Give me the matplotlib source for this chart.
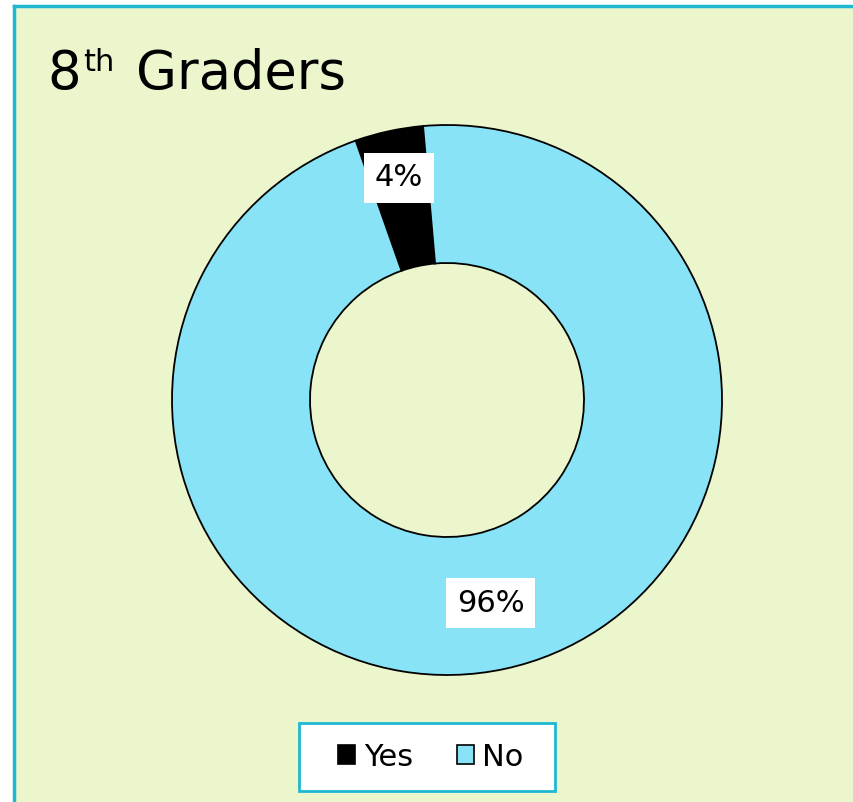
import matplotlib
matplotlib.use("Agg")
import matplotlib.pyplot as plt
import numpy as np
from matplotlib.patches import Rectangle, Patch
from matplotlib.lines import Line2D

# data
categories = ["Yes", "No"]
values = [4, 96]
colors = ["#000000", "#87E3F5"]

BG = "#EBF6CD"
BORDER = "#1FB8D2"
W, H = 854, 802


def fx(px):
    return px / W


def fy(py):
    # pixel row from top -> figure fraction
    return 1 - py / H


fig = plt.figure(figsize=(W / 100, H / 100), dpi=100)
fig.patch.set_facecolor("white")

# chart area, only top and left border visible
fig.add_artist(Rectangle((fx(14), 0), 1, fy(6), transform=fig.transFigure,
                         facecolor=BG, edgecolor="none", zorder=0))
fig.add_artist(Line2D([fx(14), 1.01], [fy(6), fy(6)], transform=fig.transFigure,
                      color=BORDER, linewidth=2.5))
fig.add_artist(Line2D([fx(14), fx(14)], [-0.01, fy(6)], transform=fig.transFigure,
                      color=BORDER, linewidth=2.5))

# title: 8th Graders
fig.text(fx(47), fy(89), "8", fontsize=38, ha="left", va="baseline")
fig.text(fx(83), fy(71), "th", fontsize=22, ha="left", va="baseline")
fig.text(fx(136), fy(89), "Graders", fontsize=38, ha="left", va="baseline")

# donut centred at (447, 400) px, outer radius 275 px
ax = fig.add_axes([fx(447 - 280), fy(400 + 280), fx(560), 560 / H])
R = 275 / 280
wedges, _, autotexts = ax.pie(
    values, colors=colors, radius=R, startangle=95, counterclock=True,
    autopct="%1.0f%%", pctdistance=0.8,
    wedgeprops=dict(width=(275 - 137) / 280, edgecolor="black", linewidth=1.3),
    textprops=dict(fontsize=22, color="black"))
ax.set_xlim(-1, 1)
ax.set_ylim(-1, 1)
ax.set_aspect("equal")
ax.axis("off")

# per-label radial placement, as in the reference
label_r = [0.826, 0.756]
for w, t, r in zip(wedges, autotexts, label_r):
    mid = np.deg2rad((w.theta1 + w.theta2) / 2)
    t.set_position((R * r * np.cos(mid), R * r * np.sin(mid)))
    t.set_bbox(dict(boxstyle="square,pad=0.35", facecolor="white", edgecolor="none"))

# legend box
fig.add_artist(Rectangle((fx(299), fy(791)), fx(555 - 299), (791 - 723) / H,
                         transform=fig.transFigure, facecolor="white",
                         edgecolor=BORDER, linewidth=2, zorder=3))
handles = [Patch(facecolor=c, edgecolor="black", linewidth=1.2) for c in colors]
leg = fig.legend(handles, categories, loc="center",
                 bbox_to_anchor=(fx(431), fy(757)), ncol=2,
                 fontsize=22, frameon=False,
                 handlelength=0.55, handleheight=0.55, handletextpad=0.28,
                 columnspacing=1.45, borderpad=0, borderaxespad=0)
leg.set_zorder(4)

fig.savefig("out.png", dpi=100, facecolor=fig.get_facecolor())
